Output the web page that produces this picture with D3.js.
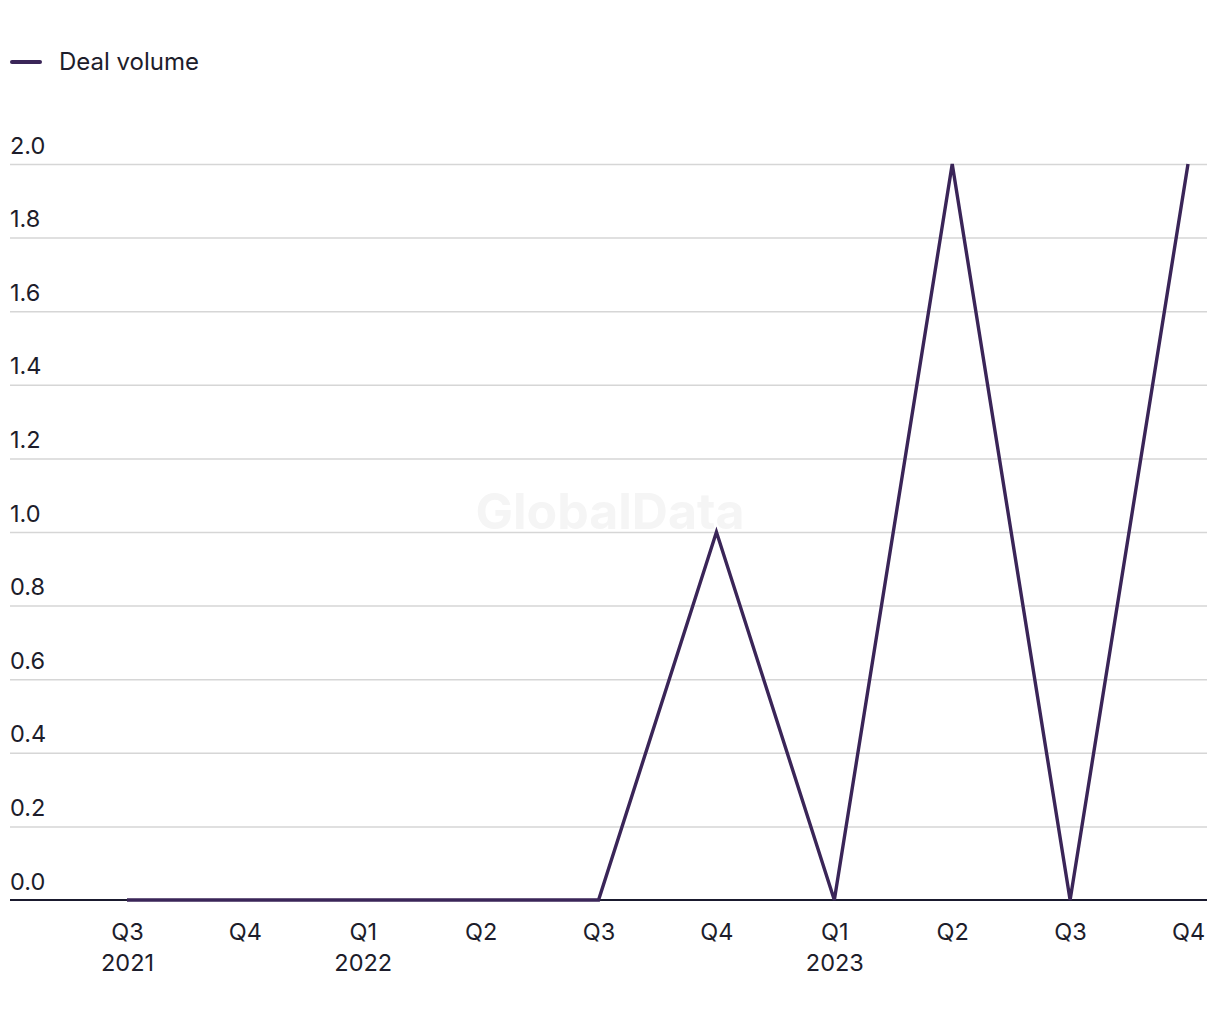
<!DOCTYPE html>
<html>
<head>
<meta charset="utf-8">
<script src="https://cdn.jsdelivr.net/npm/d3@7"></script>
<style>
  html, body { margin: 0; padding: 0; background: #ffffff; }
  svg { display: block; font-family: Inter, "Liberation Sans", Arial, sans-serif; }
</style>
</head>
<body>
<svg id="chart" width="1220" height="1020"></svg>
<script>
const quarters = ["Q3", "Q4", "Q1", "Q2", "Q3", "Q4", "Q1", "Q2", "Q3", "Q4"];
const years = ["2021", "", "2022", "", "", "", "2023", "", "", ""];
const dealVolume = [0, 0, 0, 0, 0, 1, 0, 2, 0, 2];
const yTicks = [0, 0.2, 0.4, 0.6, 0.8, 1.0, 1.2, 1.4, 1.6, 1.8, 2.0];
const seriesName = "Deal volume";

const lineColor = "#3a2558";
const textColor = "#1d1d2b";
const fontFam = "Inter, 'Liberation Sans', Arial, sans-serif";

const svg = d3.select("#chart");
const plotLeft = 10, plotRight = 1207;
const x = d3.scalePoint().domain(d3.range(quarters.length)).range([127, 1188]);
const y = d3.scaleLinear().domain([0, 2]).range([900, 164]);

// Watermark
svg.append("text")
  .attr("x", 610).attr("y", 529)
  .attr("text-anchor", "middle")
  .attr("font-size", 50).attr("font-weight", 700)
  .attr("fill", "#f5f5f5")
  .text("GlobalData");

// Gridlines + y labels
const yAxis = d3.axisLeft(y).tickValues(yTicks).tickSize(0).tickFormat(d3.format(".1f"));
const gy = svg.append("g").call(yAxis);
gy.select(".domain").remove();
gy.selectAll(".tick text")
  .attr("x", plotLeft).attr("dy", null).attr("y", -11)
  .attr("text-anchor", "start")
  .attr("font-size", 23.5).attr("fill", textColor)
  .attr("font-family", fontFam);
gy.selectAll(".tick line").remove();
gy.selectAll(".tick").filter(d => d !== 0).append("line")
  .attr("x1", plotLeft).attr("x2", plotRight)
  .attr("stroke", "#d6d6d6").attr("stroke-width", 1.5);

// X axis
const xAxis = d3.axisBottom(x).tickSize(0).tickFormat(i => quarters[i]);
const gx = svg.append("g").attr("transform", "translate(0,900)").call(xAxis);
gx.select(".domain").remove();
gx.selectAll(".tick text")
  .attr("y", 0).attr("dy", null)
  .attr("font-size", 23.5).attr("fill", textColor)
  .attr("font-family", fontFam)
  .each(function(i) {
    const t = d3.select(this);
    t.text(null);
    t.append("tspan").attr("x", 0).attr("y", 40).text(quarters[i]);
    if (years[i]) t.append("tspan").attr("x", 0).attr("y", 71).text(years[i]);
  });
svg.append("line")
  .attr("x1", plotLeft).attr("x2", plotRight)
  .attr("y1", y(0)).attr("y2", y(0))
  .attr("stroke", "#1a1a2e").attr("stroke-width", 2);

// Line
const line = d3.line().x((d, i) => x(i)).y(d => y(d));
svg.append("path")
  .datum(dealVolume)
  .attr("d", line)
  .attr("fill", "none")
  .attr("stroke", lineColor)
  .attr("stroke-width", 3.4)
  .attr("stroke-linejoin", "miter");

// Legend
svg.append("line")
  .attr("x1", 12).attr("x2", 40).attr("y1", 62).attr("y2", 62)
  .attr("stroke", lineColor).attr("stroke-width", 4).attr("stroke-linecap", "round");
svg.append("text")
  .attr("x", 59).attr("y", 70)
  .attr("font-size", 24).attr("fill", textColor)
  .attr("font-family", fontFam)
  .text(seriesName);
</script>
</body>
</html>
